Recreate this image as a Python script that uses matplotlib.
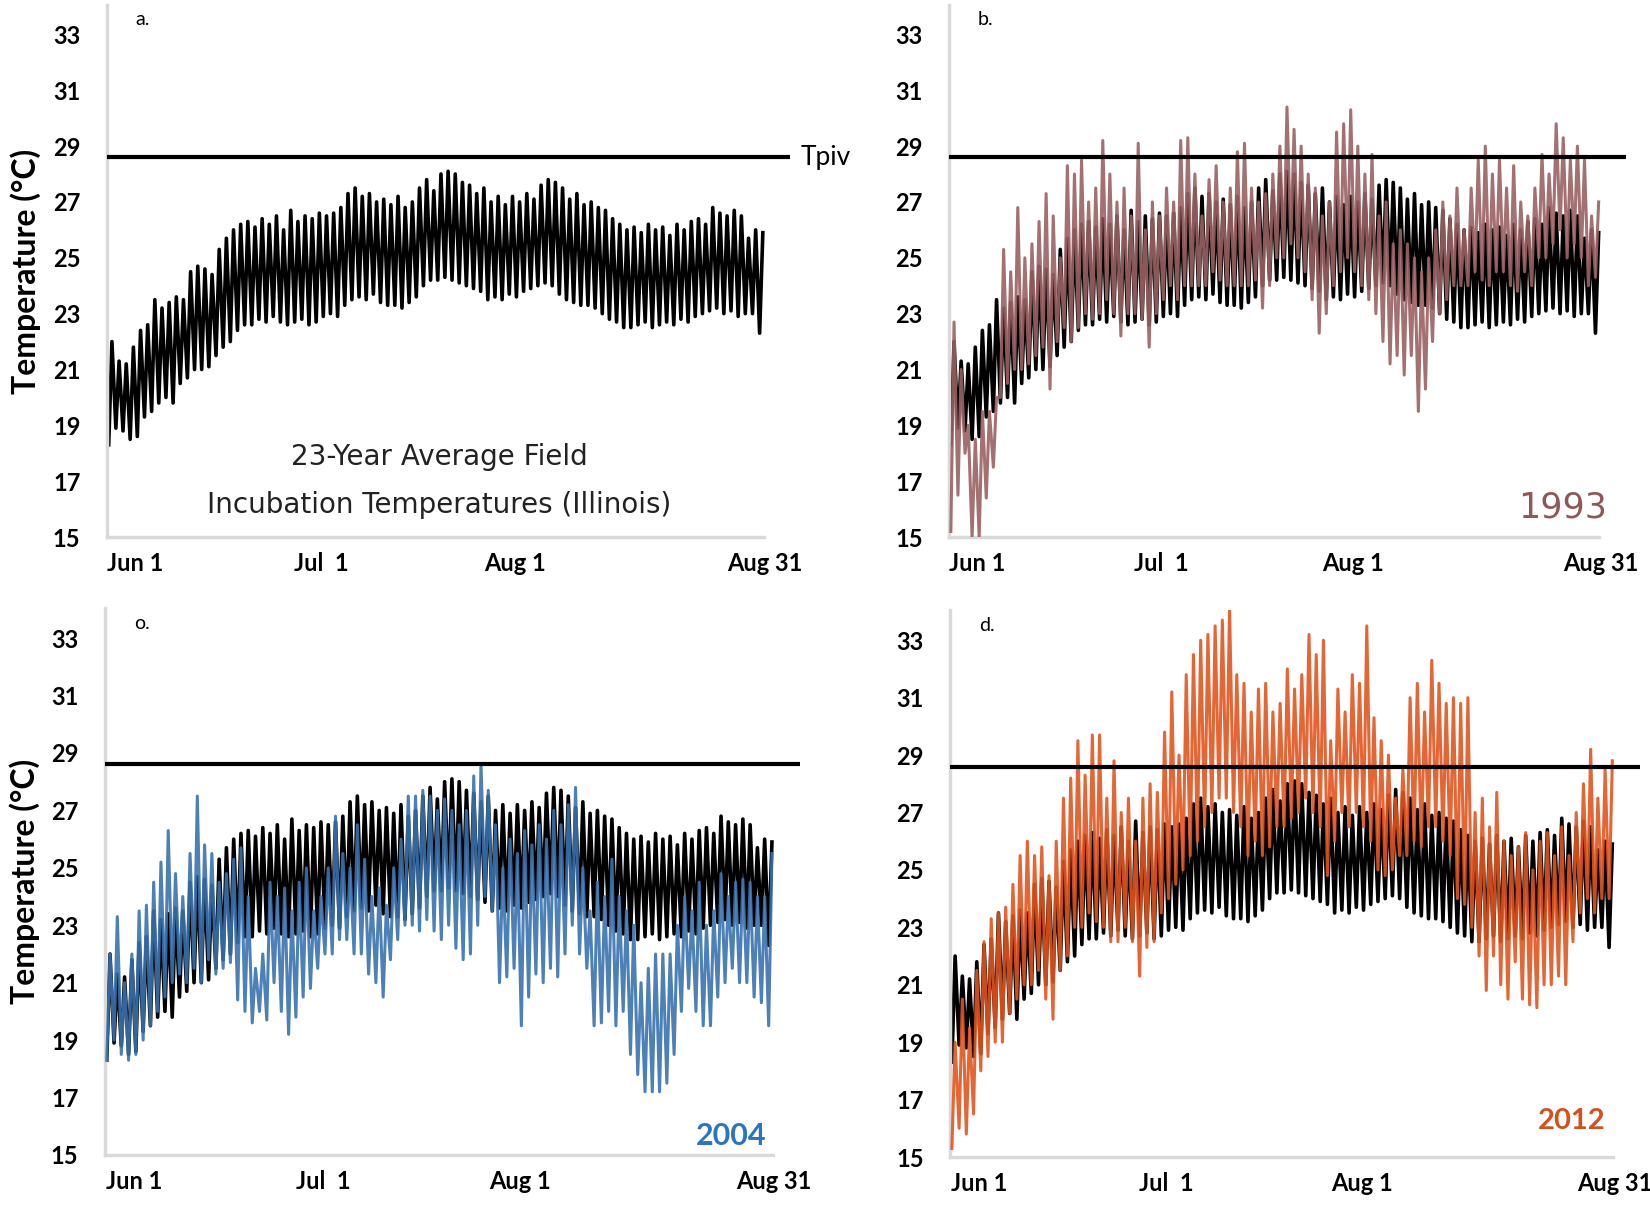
'''
Field incubation temperatures (Illinois) vs. the pivotal temperature.
Each day is drawn as a min -> max swing of the hourly temperature.
'''
import numpy as np
import matplotlib
matplotlib.use('Agg')
import matplotlib.pyplot as plt

TPIV = 28.6
Y_TICKS = [15, 17, 19, 21, 23, 25, 27, 29, 31, 33]
X_TICK_LABELS = ['Jun 1', 'Jul  1', 'Aug 1', 'Aug 31']
X_TICK_DAYS = [4, 30, 57, 92]

# 23-year average, daily max / min (Jun 1 .. Aug 31)
avg_max = [22.0, 21.3, 21.2, 21.8, 22.4, 22.6, 23.5, 23.2, 23.4, 23.6,
           23.5, 24.5, 24.7, 24.6, 24.4, 25.3, 25.7, 26.0, 26.2, 26.3,
           26.1, 26.4, 26.2, 26.5, 26.0, 26.7, 26.3, 26.5, 26.4, 26.6,
           26.5, 26.6, 26.8, 27.3, 27.5, 27.2, 27.3, 27.0, 27.1, 26.9,
           27.2, 26.8, 27.0, 27.5, 27.8, 27.4, 28.0, 28.1, 28.0, 27.7,
           27.6, 27.3, 27.5, 27.0, 27.2, 26.9, 27.2, 27.0, 27.3, 27.1,
           27.6, 27.8, 27.7, 27.5, 27.1, 27.3, 26.9, 27.0, 26.8, 26.7,
           26.4, 26.2, 26.0, 26.1, 25.9, 26.2, 26.0, 26.1, 25.8, 26.2,
           26.0, 26.3, 26.4, 26.2, 26.8, 26.6, 26.5, 26.7, 26.5, 25.7,
           26.0, 25.9]
avg_min = [18.3, 18.9, 18.8, 18.5, 18.6, 19.3, 19.5, 19.8, 20.0, 19.8,
           20.5, 20.7, 21.0, 21.0, 21.1, 21.5, 21.8, 22.0, 22.4, 22.6,
           22.6, 22.8, 22.7, 22.9, 22.7, 22.6, 22.7, 22.8, 22.6, 22.7,
           22.9, 23.0, 22.9, 23.3, 23.5, 23.6, 23.5, 23.7, 23.4, 23.3,
           23.3, 23.2, 23.4, 23.6, 24.0, 24.2, 24.2, 24.3, 24.2, 24.1,
           24.0, 23.9, 23.8, 23.5, 23.6, 23.5, 23.7, 23.6, 23.8, 23.9,
           24.0, 24.1, 24.0, 23.7, 23.5, 23.4, 23.3, 23.3, 23.2, 23.0,
           22.8, 22.7, 22.5, 22.5, 22.6, 22.7, 22.5, 22.6, 22.7, 22.6,
           22.8, 22.7, 22.9, 23.0, 23.1, 23.2, 23.0, 23.1, 22.9, 23.0,
           23.0, 22.3]

y1993_max = [22.7, 21.0, 19.0, 18.5, 19.5, 19.5, 20.0, 25.3, 24.5, 26.8,
             25.0, 25.5, 26.3, 27.3, 26.5, 25.0, 28.3, 28.0, 28.5, 27.0,
             27.5, 29.2, 28.0, 27.0, 27.5, 26.5, 29.1, 26.0, 27.0, 26.5,
             27.5, 27.0, 29.2, 29.3, 28.0, 26.5, 27.8, 28.3, 27.0, 27.5,
             28.8, 29.1, 27.5, 27.0, 27.3, 28.0, 29.0, 30.4, 29.6, 29.0,
             28.0, 27.5, 26.5, 27.0, 29.5, 29.8, 30.3, 29.0, 28.0, 28.7,
             26.5, 27.0, 25.5, 26.0, 25.5, 25.0, 24.5, 25.0, 26.0, 27.0,
             26.5, 27.5, 26.0, 27.5, 28.5, 29.0, 28.0, 28.5, 27.5, 28.3,
             27.0, 26.5, 27.5, 28.7, 28.0, 29.8, 29.3, 28.5, 29.0, 28.5,
             26.5, 27.0]
y1993_min = [15.2, 16.5, 18.0, 15.0, 15.0, 16.4, 17.5, 20.0, 20.5, 21.0,
             21.0, 21.2, 21.5, 21.8, 20.3, 22.0, 22.5, 22.0, 22.5, 23.0,
             22.8, 23.0, 23.5, 23.0, 22.2, 23.0, 23.0, 22.8, 21.8, 23.0,
             23.5, 24.0, 23.5, 24.0, 24.0, 24.0, 24.0, 24.5, 24.2, 24.0,
             24.0, 24.0, 24.0, 24.2, 23.2, 24.0, 25.0, 25.0, 25.5, 25.0,
             24.5, 23.5, 22.3, 23.0, 24.0, 24.5, 25.0, 24.5, 24.0, 23.5,
             23.0, 22.0, 21.2, 21.5, 20.8, 21.5, 19.5, 20.3, 22.0, 23.0,
             23.5, 24.0, 24.0, 24.0, 24.5, 24.2, 24.0, 24.5, 24.5, 24.0,
             23.8, 24.5, 24.0, 25.0, 25.0, 25.5, 26.0, 25.0, 25.5, 25.0,
             24.0, 24.3]

y2004_max = [22.0, 23.3, 21.0, 22.0, 23.5, 23.7, 24.5, 25.2, 26.3, 24.8,
             24.0, 25.5, 27.5, 25.8, 25.5, 24.5, 24.8, 25.3, 25.7, 24.0,
             21.5, 22.0, 24.5, 24.0, 24.3, 23.5, 24.5, 25.0, 23.5, 24.0,
             25.0, 26.8, 25.5, 25.0, 26.5, 25.3, 24.0, 24.3, 23.7, 25.0,
             26.0, 27.5, 27.5, 27.7, 27.5, 27.0, 27.4, 27.0, 26.5, 27.0,
             28.2, 28.6, 27.7, 26.5, 25.0, 26.0, 25.5, 26.3, 25.8, 26.5,
             26.0, 27.0, 26.5, 27.2, 27.8, 25.0, 23.5, 24.5, 24.0, 25.3,
             24.0, 23.5, 23.0, 21.0, 21.5, 22.0, 22.0, 22.0, 23.0, 24.0,
             23.5, 24.5, 23.0, 23.5, 24.8, 24.0, 24.5, 24.6, 24.5, 24.0,
             24.0, 25.5]
y2004_min = [18.3, 19.0, 18.5, 18.3, 18.5, 19.0, 19.5, 20.0, 20.5, 21.0,
             21.3, 21.0, 21.5, 21.0, 21.8, 21.3, 21.5, 21.7, 20.4, 20.0,
             19.6, 20.0, 19.7, 21.0, 20.0, 19.2, 19.8, 20.5, 20.8, 21.5,
             22.0, 22.0, 22.5, 22.5, 22.0, 22.0, 21.3, 21.0, 20.5, 21.8,
             22.5, 23.0, 23.0, 22.8, 23.2, 22.8, 22.5, 23.0, 22.2, 21.8,
             22.0, 23.0, 24.0, 23.5, 21.0, 21.2, 21.5, 19.5, 20.5, 21.3,
             21.0, 21.5, 21.2, 22.0, 23.0, 22.0, 21.5, 19.5, 19.6, 20.0,
             19.5, 20.0, 18.5, 17.8, 17.2, 17.2, 17.2, 17.5, 18.5, 20.0,
             20.8, 20.0, 19.5, 19.5, 20.5, 21.0, 21.5, 21.0, 21.0, 20.5,
             20.3, 19.5]

y2012_max = [19.0, 20.5, 19.5, 21.5, 22.5, 23.3, 23.5, 23.7, 24.5, 25.5,
             26.0, 25.5, 25.8, 24.8, 26.0, 27.5, 28.2, 29.5, 28.3, 29.7,
             29.7, 27.5, 28.8, 27.0, 27.5, 26.0, 27.5, 28.0, 27.7, 29.8,
             31.2, 29.0, 31.8, 32.5, 33.0, 33.2, 33.5, 33.7, 34.1, 31.8,
             31.5, 30.5, 31.3, 31.5, 30.5, 30.8, 32.0, 31.3, 31.8, 33.2,
             32.5, 33.0, 29.5, 31.3, 30.5, 31.8, 31.5, 33.5, 30.3, 29.5,
             29.0, 27.5, 28.5, 31.0, 31.5, 30.5, 32.3, 31.5, 30.8, 31.0,
             30.8, 31.0, 27.0, 27.5, 26.5, 27.7, 26.0, 25.5, 25.8, 26.3,
             25.0, 26.0, 26.3, 25.5, 26.5, 25.5, 27.0, 28.0, 29.2, 27.5,
             28.5, 28.8]
y2012_min = [15.3, 16.0, 15.8, 16.5, 18.0, 18.5, 19.0, 19.0, 20.0, 20.5,
             21.0, 21.0, 21.5, 20.5, 19.8, 21.5, 22.0, 23.0, 23.0, 23.5,
             23.2, 23.0, 22.5, 22.5, 23.0, 22.5, 21.3, 22.3, 22.5, 23.5,
             24.0, 24.5, 25.0, 25.5, 26.0, 26.5, 27.0, 27.5, 27.5, 27.0,
             26.5, 25.5, 26.0, 25.5, 25.8, 26.5, 26.5, 26.8, 27.0, 27.5,
             27.0, 26.5, 24.8, 26.0, 27.0, 26.5, 27.0, 26.5, 26.0, 25.0,
             24.8, 25.0, 25.5, 25.5, 26.0, 25.8, 26.5, 26.5, 26.0, 25.5,
             24.0, 23.8, 23.0, 22.0, 20.8, 22.0, 21.0, 20.5, 21.8, 20.5,
             20.3, 20.2, 21.0, 21.0, 21.3, 21.0, 22.5, 23.5, 24.0, 23.5,
             24.0, 24.0]

FONT = ['Lato', 'DejaVu Sans']
NARROW = ['Liberation Sans Narrow', 'DejaVu Sans']


def daily_swing(tmax, tmin):
    '''interleave daily minimum (early morning) and maximum (afternoon)'''
    days = np.arange(len(tmax))
    x = np.empty(2 * len(days))
    y = np.empty(2 * len(days))
    x[0::2] = days + 0.25
    x[1::2] = days + 0.7
    y[0::2] = tmin
    y[1::2] = tmax
    return x, y


def style_axes(ax):
    for s in ['top', 'right']:
        ax.spines[s].set_visible(False)
    for s in ['left', 'bottom']:
        ax.spines[s].set_color('#d9d9d9')
        ax.spines[s].set_linewidth(2.5)
    ax.spines['bottom'].set_bounds(0, 91.8)
    ax.set_xlim(0, 95.5)
    ax.set_ylim(15, 34.05)
    ax.set_yticks(Y_TICKS)
    ax.set_yticklabels([str(v) for v in Y_TICKS], fontsize=17,
                       fontweight='bold', family=FONT)
    ax.set_xticks(X_TICK_DAYS)
    ax.set_xticklabels(X_TICK_LABELS, fontsize=17, fontweight='bold',
                       family=FONT)
    ax.tick_params(axis='y', length=0, pad=19)
    ax.tick_params(axis='x', length=0, pad=11)
    ax.axhline(TPIV, color='black', lw=3, zorder=4)


fig = plt.figure(figsize=(16.5, 12.09), dpi=100)
ax_a = fig.add_axes([0.0648, 0.5558, 0.414, 0.4400])
ax_b = fig.add_axes([0.5752, 0.5558, 0.410, 0.4400])
ax_c = fig.add_axes([0.0636, 0.0447, 0.421, 0.4524])
ax_d = fig.add_axes([0.5758, 0.0430, 0.418, 0.4524])

avg_x, avg_y = daily_swing(avg_max, avg_min)
series = [
    (ax_a, None, None, None),
    (ax_b, y1993_max, y1993_min, '#9a6264'),
    (ax_c, y2004_max, y2004_min, '#3a72ae'),
    (ax_d, y2012_max, y2012_min, '#e2551e'),
]
for ax, tmax, tmin, color in series:
    ax.plot(avg_x, avg_y, color='black', lw=2.6, zorder=2)
    if tmax is not None:
        sx, sy = daily_swing(tmax, tmin)
        ax.plot(sx, sy, color=color, lw=2.2, alpha=0.9, zorder=3)
    style_axes(ax)

for ax, lab in zip([ax_a, ax_b, ax_c, ax_d], ['a.', 'b.', 'o.', 'd.']):
    ax.text(0.042, 0.972, lab, transform=ax.transAxes, fontsize=14,
            family=FONT, va='center', ha='left')

ax_a.text(1.015, TPIV, 'Tpiv', transform=ax_a.get_yaxis_transform(),
          fontsize=19, family=FONT, va='center', ha='left')
ax_a.text(46.5, 17.85, '23-Year Average Field', fontsize=20,
          family=NARROW, ha='center', va='center', color='#222222')
ax_a.text(46.5, 16.15, 'Incubation Temperatures (Illinois)', fontsize=20,
          family=NARROW, ha='center', va='center', color='#222222')

ax_b.text(0.907, 0.055, '1993', transform=ax_b.transAxes, fontsize=25,
          family=NARROW, color='#8e5858', ha='center', va='center')
ax_c.text(0.902, 0.035, '2004', transform=ax_c.transAxes, fontsize=22,
          family=FONT, fontweight='bold', color='#2b74c4', ha='center',
          va='center')
ax_d.text(0.902, 0.065, '2012', transform=ax_d.transAxes, fontsize=21,
          family=FONT, fontweight='bold', color='#d4501c', ha='center',
          va='center')

for ax in [ax_a, ax_c]:
    ax.set_ylabel('Temperature (\u00b0C)', fontsize=23, fontweight='bold',
                  family=FONT)
ax_a.yaxis.set_label_coords(-0.097, 0.5)
ax_c.yaxis.set_label_coords(-0.094, 0.5)

fig.savefig('out.png', dpi=100)
